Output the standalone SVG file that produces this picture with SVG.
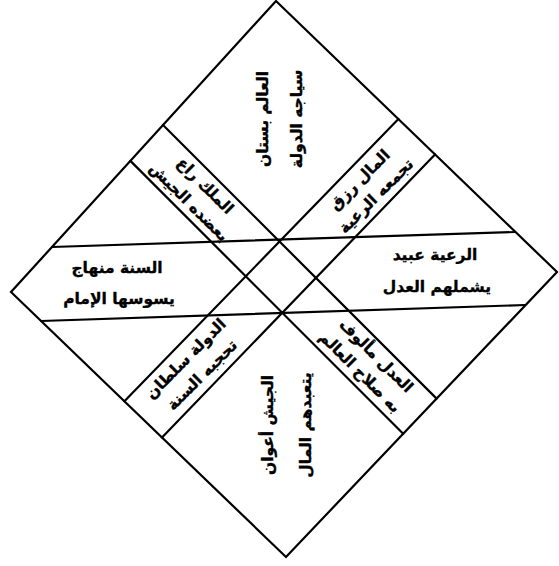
<svg xmlns="http://www.w3.org/2000/svg" width="559" height="566" viewBox="0 0 559 566">
<style>
.ln{stroke:#000;stroke-width:2.2;fill:none;stroke-linecap:round;stroke-linejoin:miter}
.t{font-family:"DejaVu Sans",sans-serif;font-weight:bold;font-size:15.5px;fill:#000;stroke:#000;stroke-width:0.35;text-anchor:middle;dominant-baseline:central}
</style>
<rect width="559" height="566" fill="#fff"/>
<g id="connectors">
<polygon class="ln" points="276,1 557,272 286,557 11,292"/>
<line class="ln" x1="52" y1="247" x2="515" y2="232"/>
<line class="ln" x1="41" y1="321" x2="525" y2="305"/>
<line class="ln" x1="130.4" y1="160.9" x2="403.2" y2="433.7"/>
<line class="ln" x1="163" y1="125" x2="436.6" y2="398.6"/>
<line class="ln" x1="398.4" y1="119" x2="124.4" y2="401.3"/>
<line class="ln" x1="435" y1="154.4" x2="162" y2="437.5"/>
</g>
<g id="top" transform="translate(280,119) rotate(-90)">
<text class="t" y="-17">العالم بستان</text>
<text class="t" y="17">سياجه الدولة</text>
</g>
<g id="bottom" transform="translate(287,425) rotate(-90)">
<text class="t" y="-19">الجيش أعوان</text>
<text class="t" y="19">يتعبدهم المال</text>
</g>
<g id="left">
<text class="t" x="117" y="268">السنة منهاج</text>
<text class="t" x="119" y="299">يسوسها الإمام</text>
</g>
<g id="right">
<text class="t" x="435" y="255">الرعية عبيد</text>
<text class="t" x="437" y="287">يشملهم العدل</text>
</g>
<g id="topleft" transform="translate(197,194) rotate(45)">
<text class="t" y="-11.5">الملك راع</text>
<text class="t" y="11.5">يعضده الجيش</text>
</g>
<g id="topright" transform="translate(368,188) rotate(-45)">
<text class="t" y="-11.5">المال رزق</text>
<text class="t" y="11.5">تجمعه الرعية</text>
</g>
<g id="bottomleft" transform="translate(194,367) rotate(-45)">
<text class="t" y="-11.5">الدولة سلطان</text>
<text class="t" y="11.5">تحجبه السنة</text>
</g>
<g id="bottomright" transform="translate(368,364) rotate(45)">
<text class="t" y="-11.5">العدل مألوف</text>
<text class="t" y="11.5">به صلاح العالم</text>
</g>
</svg>
